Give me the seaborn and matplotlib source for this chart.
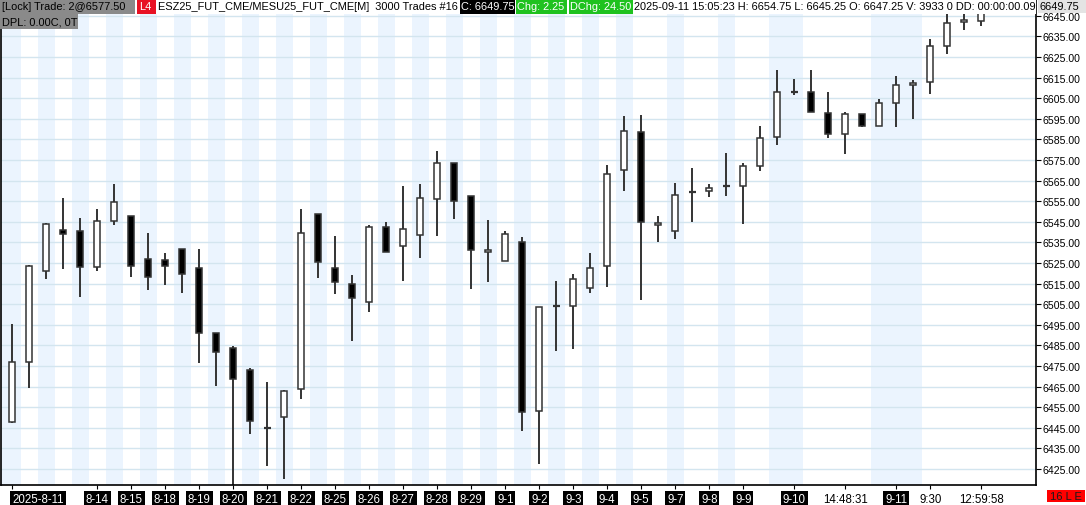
import matplotlib
matplotlib.use("Agg")
import matplotlib.pyplot as plt
from matplotlib.patches import Rectangle
import seaborn as sns
import numpy as np

# ---------------- data ----------------
opens = [6448.0, 6477.0, 6521.0, 6541.25, 6540.5, 6523.0, 6545.25, 6548.0, 6526.75, 6526.25,
         6532.0, 6522.5, 6491.0, 6483.5, 6473.0, 6445.0, 6450.0, 6463.75, 6549.0, 6522.5,
         6515.0, 6506.0, 6542.25, 6533.5, 6538.5, 6556.0, 6573.5, 6557.75, 6530.25, 6525.75,
         6535.0, 6453.25, 6504.0, 6504.0, 6512.75, 6523.5, 6570.0, 6588.75, 6543.25, 6540.5,
         6559.5, 6559.75, 6562.5, 6562.25, 6572.0, 6586.0, 6608.25, 6608.25, 6597.75, 6587.5,
         6597.25, 6591.75, 6602.5, 6611.25, 6612.75, 6630.25, 6642.0, 6642.75]
highs = [6495.5, 6524.0, 6544.5, 6556.5, 6546.75, 6551.25, 6563.25, 6548.0, 6539.5, 6530.0,
         6532.0, 6531.75, 6491.0, 6484.5, 6474.0, 6467.25, 6463.25, 6551.25, 6549.0, 6538.0,
         6519.25, 6543.5, 6545.0, 6562.5, 6563.25, 6579.5, 6573.5, 6557.75, 6546.0, 6540.5,
         6537.5, 6503.5, 6516.25, 6519.75, 6529.75, 6572.5, 6596.25, 6596.75, 6547.75, 6563.75,
         6571.0, 6563.25, 6578.5, 6573.5, 6591.5, 6618.75, 6614.25, 6618.75, 6608.0, 6598.5,
         6597.25, 6604.5, 6616.0, 6613.75, 6633.75, 6648.0, 6650.0, 6654.75]
lows = [6447.25, 6464.5, 6517.0, 6522.0, 6508.25, 6521.25, 6543.5, 6518.0, 6512.0, 6514.5,
        6510.5, 6476.5, 6465.25, 6417.0, 6442.0, 6426.25, 6420.0, 6459.0, 6517.5, 6510.0,
        6487.25, 6501.0, 6530.25, 6516.5, 6527.5, 6538.25, 6546.5, 6512.5, 6516.0, 6525.75,
        6443.5, 6427.5, 6482.5, 6483.0, 6510.5, 6513.25, 6560.0, 6507.25, 6535.25, 6536.75,
        6545.0, 6557.25, 6557.75, 6544.0, 6569.75, 6582.5, 6606.75, 6598.25, 6585.75, 6577.75,
        6591.25, 6591.75, 6591.25, 6595.0, 6607.25, 6626.5, 6638.25, 6640.25]
closes = [6476.75, 6523.5, 6543.75, 6539.0, 6523.0, 6545.25, 6554.5, 6523.5, 6518.0, 6523.5,
          6519.5, 6491.0, 6482.0, 6468.5, 6448.25, 6445.0, 6462.75, 6539.5, 6525.25, 6516.0,
          6508.0, 6542.25, 6530.25, 6541.5, 6556.5, 6573.5, 6555.0, 6531.5, 6531.25, 6539.0,
          6452.5, 6503.5, 6504.0, 6517.0, 6522.5, 6568.0, 6589.0, 6545.0, 6544.25, 6558.25,
          6559.5, 6561.25, 6562.5, 6572.0, 6585.5, 6608.25, 6608.25, 6598.25, 6587.5, 6597.25,
          6591.75, 6602.5, 6611.25, 6612.25, 6630.25, 6641.75, 6643.0, 6649.75]

# alternating session shading (bar indices that are shaded)
shaded_bars = list(range(0, 37, 2)) + [39, 42, 45, 46, 51, 52, 53]

x_label_bars = [0, 5, 7, 9, 11, 13, 15, 17, 19, 21, 23, 25, 27, 29, 31, 33, 35, 37, 39, 41, 43,
                46, 49, 52, 54, 57]
x_labels = ["2025-8-11", "8-14", "8-15", "8-18", "8-19", "8-20", "8-21", "8-22", "8-25", "8-26",
            "8-27", "8-28", "8-29", "9-1", "9-2", "9-3", "9-4", "9-5", "9-7", "9-8", "9-9",
            "9-10", "14:48:31", "9-11", "9:30", "12:59:58"]
y_ticks = list(np.arange(6425, 6646, 10))

last_price = "6649.75"
header_gray = "[Lock] Trade: 2@6577.50"
header_red = "L4"
header_sym = "ESZ25_FUT_CME/MESU25_FUT_CME[M]  3000 Trades #16"
header_close = "C: 6649.75"
header_chg = "Chg: 2.25"
header_dchg = "DChg: 24.50"
header_info = "2025-09-11 15:05:23 H: 6654.75 L: 6645.25 O: 6647.25 V: 3933 0 DD: 00:00:00.09"
header_dpl = "DPL: 0.00C, 0T"
corner_tag = "16 L E"

# ---------------- style ----------------
sns.set_theme(style="white")
plt.rcParams['font.family'] = ['Liberation Sans', 'DejaVu Sans']

W, H = 1086, 506
fig = plt.figure(figsize=(W / 100, H / 100), dpi=100)
fig.patch.set_facecolor("white")
ax = fig.add_axes([1 / W, 20 / H, 1035 / W, 486 / H])
ax.set_facecolor("white")

n = len(opens)
xs = np.arange(n)
xmin, xmax = -0.665, 60.22
ax.set_xlim(xmin, xmax)
ax.set_ylim(6417.2, 6653.2)

band_color = "#ebf4fe"
for i in shaded_bars:
    left = xmin if i == 0 else i - 0.5
    ax.axvspan(left, i + 0.5, color=band_color, lw=0, zorder=0)

for v in y_ticks:
    ax.axhline(v, color="#d3e5ef", lw=1.0, zorder=1)

edge = "#333333"
o = np.array(opens); c = np.array(closes); h = np.array(highs); l = np.array(lows)
ax.vlines(xs, l, h, color=edge, lw=1.4, zorder=2)
up = c > o
down = c < o
doji = c == o
ax.bar(xs[up], (c - o)[up], bottom=o[up], width=0.36, color="white",
       edgecolor=edge, linewidth=1.1, zorder=3)
ax.bar(xs[down], (o - c)[down], bottom=c[down], width=0.36, color="black",
       edgecolor=edge, linewidth=1.1, zorder=3)
ax.hlines(o[doji], xs[doji] - 0.21, xs[doji] + 0.21, color=edge, lw=1.6, zorder=3)

# axes / spines
ax.spines["top"].set_visible(False)
for s in ["left", "right", "bottom"]:
    ax.spines[s].set_visible(True)
    ax.spines[s].set_color("black")
    ax.spines[s].set_linewidth(1.2)

ax.yaxis.tick_right()
ax.set_yticks(y_ticks)
ax.set_yticklabels([f"{v:.2f}" for v in y_ticks])
ax.tick_params(axis="y", which="both", right=True, left=False, length=3.5, width=0.8,
               color="black", labelsize=7.6, pad=1.5, labelcolor="black")

ax.set_xticks(x_label_bars)
ax.set_xticklabels(x_labels)
ax.tick_params(axis="x", which="both", bottom=True, length=3, width=0.8, color="black",
               labelsize=8.3, pad=2.6)
for k, t in enumerate(ax.get_xticklabels()):
    if ":" in t.get_text():
        t.set_color("black")
    else:
        t.set_color("white")
        t.set_bbox(dict(facecolor="black", edgecolor="none", pad=1.4))
    if k == 0:
        t.set_horizontalalignment("left")
ax.grid(False)


# ---------------- header / overlays ----------------
def box(x0, y0, w, h, color, z=5):
    fig.add_artist(Rectangle((x0 / W, 1 - (y0 + h) / H), w / W, h / H,
                             transform=fig.transFigure, facecolor=color,
                             edgecolor="none", zorder=z))


def label(x0, yc, s, color="black", size=7.9, ha="left"):
    fig.text(x0 / W, 1 - yc / H, s, color=color, fontsize=size, ha=ha, va="center",
             zorder=6)


box(0, 0, 1036, 15, "white")
box(0, 0, 135, 15, "#8a8a8a")
label(2.5, 7.5, header_gray)
box(136.5, 0, 19, 15, "#e81123")
label(139, 7.5, header_red, color="white")
label(158.5, 7.5, header_sym)
box(459.5, 0, 55.5, 15, "black")
label(461, 7.5, header_close, color="white")
box(515.5, 0, 51.5, 15, "#1fc21f")
label(517, 7.5, header_chg, color="white")
box(568.5, 0, 64, 15, "#1fc21f")
label(570, 7.5, header_dchg, color="white")
label(634, 7.5, header_info)
box(0, 15, 78, 14.5, "#8a8a8a")
label(2.5, 22.5, header_dpl)

box(1038, 0, 48, 14, "#e4e4e4")
label(1040, 7, last_price, size=7.9)

box(1047, 490.5, 37.5, 12.5, "#ff0000")
label(1065.7, 497, corner_tag, color="#1a1a1a", size=8.0, ha="center")

fig.savefig("out.png", dpi=100, facecolor="white")
